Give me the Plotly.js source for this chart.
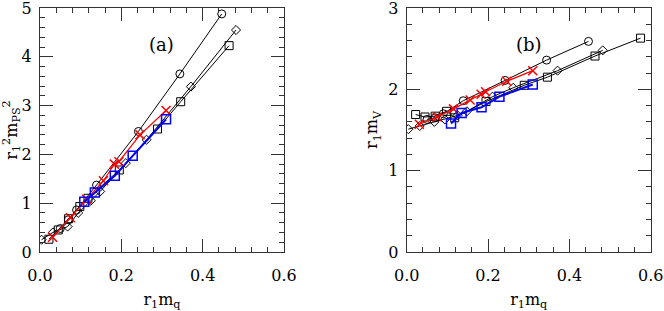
<!DOCTYPE html>
<html>
<head>
<meta charset="utf-8">
<script src="https://cdn.plot.ly/plotly-3.0.1.min.js"></script>
<style>html,body{margin:0;padding:0;background:#fff;}#plot{width:664px;height:311px;}</style>
</head>
<body>
<div id="plot"></div>
<script>
// ---- data ----
// circles (black)
var circX = [0.050, 0.070, 0.090, 0.139, 0.242, 0.344, 0.447];
var circA = [0.48, 0.66, 0.86, 1.37, 2.47, 3.65, 4.88];
var circB = [1.63, 1.65, 1.70, 1.86, 2.11, 2.36, 2.59];
// squares (black)
var sqXa = [0.022, 0.045, 0.070, 0.098, 0.118, 0.195, 0.289, 0.346, 0.465];
var sqA  = [0.26, 0.45, 0.68, 0.93, 1.10, 1.68, 2.52, 3.08, 4.23];
var sqXb = [0.022, 0.045, 0.070, 0.098, 0.118, 0.195, 0.289, 0.346, 0.463, 0.575];
var sqB  = [1.69, 1.66, 1.67, 1.73, 1.65, 1.85, 2.05, 2.15, 2.41, 2.63];
// diamonds (black)
var diaX = [0.004, 0.032, 0.068, 0.094, 0.125, 0.148, 0.211, 0.262, 0.371, 0.482];
var diaA = [0.25, 0.40, 0.52, 0.80, 1.05, 1.24, 1.82, 2.30, 3.39, 4.55];
var diaB = [1.51, 1.55, 1.60, 1.63, 1.68, 1.73, 1.91, 2.02, 2.23, 2.48];
// crosses (red)
var redX = [0.031, 0.075, 0.115, 0.156, 0.183, 0.194, 0.246, 0.310];
var redA = [0.30, 0.70, 1.08, 1.46, 1.80, 1.85, 2.40, 2.90];
var redB = [1.57, 1.66, 1.76, 1.87, 1.94, 1.97, 2.10, 2.23];
// squares (blue)
var bluX = [0.109, 0.135, 0.184, 0.228, 0.310];
var bluA = [1.03, 1.22, 1.56, 1.97, 2.72];
var bluB = [1.58, 1.71, 1.78, 1.91, 2.06];

var xTickVals = [0, 0.2, 0.4, 0.6];
var xTickText = ['0.0', '0.2', '0.4', '0.6'];

function tr(x, y, xa, ya, sym, color, size, lw, mlw) {
  return {x: x, y: y, xaxis: xa, yaxis: ya, type: 'scatter', mode: 'lines+markers',
    line: {color: color, width: lw},
    marker: {symbol: sym, size: size, color: color, line: {color: color, width: mlw}},
    showlegend: false, cliponaxis: true};
}

var data = [
  tr(circX, circA, 'x', 'y', 'circle-open', '#000', 8, 1, 1),
  tr(sqXa, sqA, 'x', 'y', 'square-open', '#000', 8, 1, 1),
  tr(diaX, diaA, 'x', 'y', 'diamond-open', '#000', 7, 1, 1),
  tr(redX, redA, 'x', 'y', 'x-thin-open', '#ff0000', 9, 1.2, 1.5),
  tr(bluX, bluA, 'x', 'y', 'square-open', '#0000ff', 9, 2, 1.5),
  tr(circX, circB, 'x2', 'y2', 'circle-open', '#000', 8, 1, 1),
  tr(sqXb, sqB, 'x2', 'y2', 'square-open', '#000', 8, 1, 1),
  tr(diaX, diaB, 'x2', 'y2', 'diamond-open', '#000', 7, 1, 1),
  tr(redX, redB, 'x2', 'y2', 'x-thin-open', '#ff0000', 9, 1.2, 1.5),
  tr(bluX, bluB, 'x2', 'y2', 'square-open', '#0000ff', 9, 2, 1.5)
];

var fontF = 'DejaVu Serif';
var axCol = '#333';
function xax(dom, anchor) {
  return {domain: dom, anchor: anchor, range: [0, 0.6], tickvals: xTickVals, ticktext: xTickText,
    ticks: 'inside', ticklen: 13, tickwidth: 1, tickcolor: axCol, mirror: 'ticks',
    showline: true, linecolor: axCol, linewidth: 1, showgrid: false, zeroline: false,
    minor: {dtick: 0.04, ticks: 'inside', ticklen: 5, tickcolor: axCol, tickwidth: 1},
    ticklabelstandoff: 9, ticklabeloverflow: 'allow',
    tickfont: {family: fontF, size: 16, color: '#000'},
    title: {text: 'r<sub>1</sub>m<sub>q</sub>', font: {family: fontF, size: 16, color: '#000'}, standoff: 12}};
}
function yax(dom, anchor, rng, title) {
  return {domain: dom, anchor: anchor, range: rng, dtick: 1,
    ticks: 'inside', ticklen: 13, tickwidth: 1, tickcolor: axCol, mirror: 'ticks',
    showline: true, linecolor: axCol, linewidth: 1, showgrid: false, zeroline: false,
    minor: {dtick: 0.2, ticks: 'inside', ticklen: 5, tickcolor: axCol, tickwidth: 1},
    ticklabelstandoff: 4, ticklabeloverflow: 'allow',
    tickfont: {family: fontF, size: 16, color: '#000'},
    title: {text: title, font: {family: fontF, size: 16, color: '#000'}, standoff: 6}};
}

var layout = {
  width: 664, height: 311,
  margin: {l: 0, r: 0, t: 0, b: 0},
  paper_bgcolor: '#fff', plot_bgcolor: '#fff',
  showlegend: false,
  xaxis: xax([0.0602, 0.4277], 'y'),
  yaxis: yax([0.19, 0.974], 'x', [0, 5], 'r<sub>1</sub><sup>2</sup>m<sub>PS</sub><sup>2</sup>'),
  xaxis2: xax([0.6125, 0.98], 'y2'),
  yaxis2: yax([0.19, 0.974], 'x2', [0, 3], 'r<sub>1</sub>m<sub>V</sub>'),
  annotations: [
    {text: '(a)', x: 0.3, y: 4.26, xref: 'x', yref: 'y', showarrow: false, font: {family: fontF, size: 18, color: '#000'}},
    {text: '(b)', x: 0.3, y: 2.55, xref: 'x2', yref: 'y2', showarrow: false, font: {family: fontF, size: 18, color: '#000'}}
  ]
};

Plotly.newPlot('plot', data, layout, {displayModeBar: false, staticPlot: true});
</script>
</body>
</html>
